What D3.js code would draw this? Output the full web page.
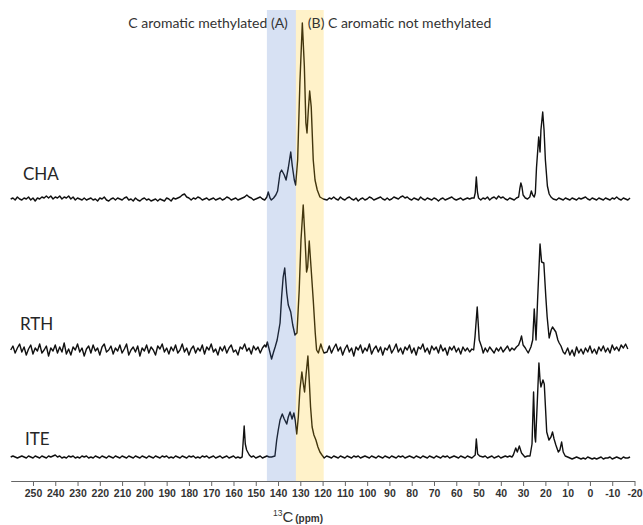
<!DOCTYPE html>
<html><head><meta charset="utf-8">
<script src="https://cdn.jsdelivr.net/npm/d3@7"></script>
<style>
html,body{margin:0;padding:0;background:#fff;}
svg{display:block;}
</style></head>
<body>
<svg id="chart" width="643" height="525"></svg>
<script>
// ---- data ----
const sampleNames = ["CHA", "RTH", "ITE"];
const stackOffsets = [282, 131, 24]; // vertical stacking offsets (intensity units)
const ppmTicks = [250,240,230,220,210,200,190,180,170,160,150,140,130,120,110,100,90,80,70,60,50,40,30,20,10,0,-10,-20];
const bandRanges = [[145, 132], [132, 119.5]];
const bandLabels = ["C aromatic methylated (A)", "(B) C aromatic not methylated"];

// [ppm, intensity]
const specCHA = [
[260,0],[259,1],[258,-1],[257,2],[256,0],[255,-1],[254,1],[253,0],[252,2],[251,-1],[250,1],[249,-2],[248,1],[247,0],[246,2],[245,1],[244,3],[243,1],[242,3],[241,0],[240,2],[239,1],[238,3],[237,0],[236,2],[235,1],[234,3],[233,0],[232,2],[231,-1],[230,1],[229,0],[228,-1],[227,1],[226,-1],[225,0],[224,1],[223,-1],[222,0],[221,-2],[220,1],[219,0],[218,2],[217,-1],[216,-2],[215,0],[214,1],[213,-1],[212,1],[211,0],[210,-1],[209,1],[208,2],[207,-1],[206,0],[205,-2],[204,1],[203,-1],[202,-2],[201,0],[200,1],[199,-1],[198,0],[197,-2],[196,-1],[195,0],[194,-2],[193,0],[192,-1],[191,-2],[190,1],[189,0],[188,-2],[187,1],[186,0],[185,1],[184,2],[183,4],[182,5],[181,2],[180,1],[179,-1],[178,1],[177,0],[176,2],[175,1],[174,-1],[173,0],[172,1],[171,-1],[170,0],[169,1],[168,-1],[167,0],[166,1],[165,-1],[164,0],[163,2],[162,1],[161,-1],[160,0],[159,1],[158,-1],[157,0],[156,1],[155,2],[154,4],[153,2],[152,1],[151,-1],[150,0],[149,1],[148,2],[147,0],[146,-1],
[145,2],[144.4,7],[143.6,1],[143,-1],[142,1],[141,4],[140.2,8],[139.1,26],[138.4,29],[137.2,24],[136.4,19],[135.4,31],[134.3,47],[133.6,33],[132.7,19],[132.1,14],[131.2,39],[130.2,116],[129.1,176],[128.2,133],[127.5,76],[127.0,66],[126.4,89],[125.8,108],[125.1,92],[124.2,39],[123.4,19],[122.4,9],[121.2,2],[119.7,0],
[118,-1],[117,1],[116,0],[115,2],[114,0],[113,-1],[112,2],[111,0],[110,-1],[109,1],[108,2],[107,0],[106,-1],[105,1],[104,-2],[103,0],[102,1],[101,-1],[100,0],[99,2],[98,1],[97,-1],[96,0],[95,1],[94,2],[93,0],[92,-1],[91,1],[90,-1],[89,0],[88,2],[87,1],[86,0],[85,2],[84,3],[83,1],[82,2],[81,0],[80,-1],[79,1],[78,0],[77,-1],[76,2],[75,0],[74,-1],[73,1],[72,0],[71,-1],[70,1],[69,0],[68,-2],[67,0],[66,1],[65,-1],[64,0],[63,1],[62,2],[61,0],[60,-1],[59,0],[58,1],[57,-1],[56,0],[55,1],[54,0],[53,1],
[52,1],[51.5,6],[51,22],[50.5,7],[50,1],[49,-1],[48,1],[47,0],[46,2],[45,-1],[44,1],[43,2],[42,0],[41,3],[40,1],[39,2],[38,0],[37,-1],[36,1],[35,0],[34,-1],[33,1],[32,2],[31.5,10],[31,16],[30.5,12],[30,4],[29,1],[28,0],[27,2],[26.3,8],[25.7,4],[25,2],[24.5,6],[24,31],[23,62],[22.4,47],[22,69],[21.2,87],[20.6,69],[20,39],[19.1,13],[18.3,5],[17.5,2],[16.5,0],
[15,-1],[14,1],[13,0],[12,-1],[11,1],[10,0],[9,-1],[8,1],[7,0],[6,-1],[5,1],[4,0],[3,1],[2,2],[1,0],[0,-1],[-1,1],[-2,0],[-3,-1],[-4,1],[-5,0],[-6,-1],[-7,1],[-8,0],[-9,-1],[-10,1],[-11,0],[-12,2],[-13,0],[-14,-1],[-15,1],[-16,0],[-17,-1],[-18,1]
];

const specRTH = [
[260,0],[259,4],[258,-3],[257,2],[256,6],[255,-2],[254,3],[253,-5],[252,1],[251,5],[250,-4],[249,2],[248,-1],[247,6],[246,-3],[245,0],[244,4],[243,-6],[242,2],[241,-1],[240,5],[239,-3],[238,3],[237,-2],[236,7],[235,-4],[234,1],[233,-5],[232,3],[231,0],[230,6],[229,-2],[228,2],[227,-6],[226,1],[225,4],[224,-3],[223,5],[222,-1],[221,2],[220,-5],[219,3],[218,6],[217,-2],[216,0],[215,4],[214,-4],[213,2],[212,-1],[211,5],[210,-3],[209,1],[208,6],[207,-5],[206,0],[205,3],[204,-2],[203,4],[202,-6],[201,2],[200,-1],[199,5],[198,-3],[197,3],[196,0],[195,-5],[194,4],[193,1],[192,6],[191,-2],[190,2],[189,-4],[188,3],[187,-1],[186,5],[185,-3],[184,0],[183,6],[182,-2],[181,2],[180,-5],[179,1],[178,4],[177,-3],[176,2],[175,-1],[174,5],[173,-4],[172,3],[171,0],[170,6],[169,-2],[168,1],[167,-5],[166,3],[165,-1],[164,4],[163,-3],[162,2],[161,5],[160,-2],[159,0],[158,-5],[157,3],[156,1],[155,6],[154,-1],[153,2],[152,-4],[151,4],[150,0],[149,3],[148,-3],[147,2],[146,5],
[145.4,3],[144.8,8],[143.9,0],[142.9,-9],[142,-2],[141.3,3],[140.4,10],[139.1,27],[138.4,53],[137.7,73],[137.0,82],[136.1,57],[135.4,45],[134.3,38],[133.4,25],[132.4,15],[131.5,17],[130.5,60],[129.7,110],[128.7,145],[127.8,107],[127.2,78],[126.7,83],[126.0,109],[125.2,83],[124.2,50],[123.3,17],[122.7,0],[121.9,-3],[120.8,6],[120.1,1],[119.4,-3],
[118,-2],[117,4],[116,-3],[115,2],[114,6],[113,-1],[112,3],[111,-5],[110,1],[109,5],[108,-2],[107,2],[106,-6],[105,3],[104,0],[103,5],[102,-3],[101,2],[100,-1],[99,6],[98,-4],[97,1],[96,4],[95,-2],[94,3],[93,-5],[92,2],[91,0],[90,5],[89,-3],[88,1],[87,6],[86,-2],[85,2],[84,-4],[83,3],[82,0],[81,5],[80,-3],[79,2],[78,-5],[77,3],[76,1],[75,6],[74,-2],[73,2],[72,-4],[71,4],[70,0],[69,3],[68,-3],[67,5],[66,-1],[65,2],[64,-5],[63,3],[62,0],[61,4],[60,-2],[59,2],[58,-4],[57,3],[56,-1],[55,2],[54,-2],[53,1],[52.2,0],
[51.6,13],[50.6,43],[49.7,10],[48.6,3],[47.9,-3],[47,2],[46,-2],[45,3],[44,0],[43,-3],[42,2],[41,-1],[40,3],[39,-2],[38,1],[37,4],[36,-1],[35,2],[34,0],[33,3],[32,5],[31.2,10],[30.7,14],[30,5],[29,2],[28.5,0],[27.7,-3],[26.5,3],[25.7,10],[25,41],[24.2,10],[23.5,50],[22.4,106],[21.7,88],[20.7,87],[19.8,53],[19.2,33],[18.3,12],[17.4,20],[16.8,23],[15.9,20],[15.3,18],[14.4,10],[13.8,7],[13,4],[12,-2],[11.2,-4],
[10,2],[9,-5],[8,0],[7,-6],[6,3],[5,-3],[4,1],[3,-4],[2,2],[1,-2],[0,4],[-1,-3],[-2,1],[-3,-4],[-4,3],[-5,-1],[-6,4],[-7,-2],[-8,2],[-9,-3],[-10,5],[-11,0],[-12,3],[-13,-1],[-14,5],[-15,2],[-16,6],[-17,1]
];

const specITE = [
[260,0],[259,1],[258,0],[257,-1],[256,0],[255,1],[254,0],[253,-1],[252,1],[251,0],[250,-1],[249,1],[248,0],[247,-1],[246,1],[245,0],[244,-1],[243,1],[242,0],[241,1],[240,2],[239,0],[238,1],[237,-1],[236,0],[235,-1],[234,1],[233,0],[232,1],[231,-1],[230,0],[229,-1],[228,1],[227,0],[226,1],[225,-1],[224,0],[223,-1],[222,1],[221,0],[220,-1],[219,1],[218,0],[217,-1],[216,1],[215,0],[214,-1],[213,1],[212,0],[211,-1],[210,1],[209,0],[208,-1],[207,1],[206,0],[205,-1],[204,1],[203,0],[202,-1],[201,1],[200,0],[199,-1],[198,1],[197,0],[196,-1],[195,1],[194,0],[193,-1],[192,1],[191,0],[190,1],[189,-1],[188,0],[187,-1],[186,1],[185,0],[184,-1],[183,1],[182,0],[181,-1],[180,1],[179,0],[178,1],[177,-1],[176,0],[175,-1],[174,1],[173,0],[172,1],[171,-1],[170,0],[169,1],[168,-1],[167,0],[166,1],[165,-1],[164,0],[163,1],[162,-1],[161,0],[160,1],[159,-1],[158,0],[157,-1],
[156.1,0],[155.6,17],[155.2,31],[154.7,13],[154.1,7],[152.9,2],[152,0],[151,1],[150,-1],[149,0],[148,1],[147,-1],[146,0],[145,1],[144,0],[142.9,0],[141.4,1],
[140.6,17],[139.9,27],[139.1,37],[138.1,43],[137.2,38],[136.1,33],[135.4,40],[134.6,45],[133.7,38],[132.9,44],[132.3,37],[131.6,23],[130.9,40],[130.2,67],[129.3,85],[128.7,74],[128.1,65],[127.4,83],[126.6,101],[126.0,77],[125.4,50],[124.7,30],[123.9,22],[123.0,17],[122.1,10],[121.2,5],[120.3,2],[119.3,-1],[118.2,1],
[117,0],[116,-1],[115,1],[114,0],[113,-1],[112,1],[111,0],[110,-1],[109,1],[108,0],[107,-1],[106,1],[105,0],[104,1],[103,-1],[102,0],[101,1],[100,0],[99,-1],[98,1],[97,0],[96,-1],[95,1],[94,0],[93,-1],[92,1],[91,0],[90,-1],[89,1],[88,0],[87,-1],[86,1],[85,0],[84,1],[83,-1],[82,0],[81,1],[80,0],[79,-1],[78,1],[77,0],[76,-1],[75,1],[74,0],[73,-1],[72,1],[71,0],[70,-1],[69,1],[68,0],[67,-1],[66,1],[65,0],[64,1],[63,-1],[62,0],[61,1],[60,0],[59,-1],[58,1],[57,0],[56,-1],[55,1],[54,0],[53,-1],[52,1],
[51.5,2],[51,18],[50.4,3],[49.5,1],[48,0],[47,1],[46,-1],[45,0],[44,1],[43,-1],[42,0],[41,1],[40,-1],[39,0],[38,1],[37,0],[36,1],[35,0],[34.4,2],[33.3,9],[32.6,5],[31.7,11],[30.7,4],[29.2,0],[28,1],[26.9,1],[26,13],[25.3,65],[24.7,20],[24.4,15],[23.6,57],[22.9,94],[22.4,77],[22,70],[21.1,77],[20.5,73],[19.9,47],[19.4,25],[18.4,17],[17.5,20],[16.8,25],[16.1,18],[15.3,12],[14.2,5],[13.5,7],[12.7,15],[12,5],[11.1,1],
[10,0],[9,-1],[8,-2],[7,-1],[6,0],[5,-1],[4,-2],[3,-1],[2,-2],[1,0],[0,-1],[-1,-2],[-2,-1],[-3,-2],[-4,-1],[-5,0],[-6,-2],[-7,-1],[-8,-1],[-9,0],[-10,-2],[-11,-1],[-12,0],[-13,-1],[-14,-2],[-15,0],[-16,-1],[-17,-1],[-18,0]
];
const spectra = [specCHA, specRTH, specITE];

// ---- chart ----
const svg = d3.select("#chart");
const x = d3.scaleLinear().domain([260, -20]).range([10.7, 634.5]);
const y = d3.scaleLinear().domain([0, 471]).range([481, 10]);

const gLines = svg.append("g");
spectra.forEach((spec, i) => {
  const line = d3.line()
    .x(d => x(d[0]))
    .y(d => y(stackOffsets[i] + d[1]));
  gLines.append("path")
    .datum(spec)
    .attr("d", line)
    .attr("fill", "none")
    .attr("stroke", "#111")
    .attr("stroke-width", 1.4)
    .attr("stroke-linejoin", "round");
});

// labels for samples
const labelPos = [[23, 180], [20, 330], [25, 445]];
sampleNames.forEach((n, i) => {
  svg.append("text")
    .attr("x", labelPos[i][0]).attr("y", labelPos[i][1])
    .attr("font-family", "Lato, 'Open Sans', sans-serif")
    .attr("font-size", 17)
    .attr("fill", "#262626")
    .text(n);
});

// band overlays
const bandColors = ["#4472C4", "#FFC000"];
const bandOpac = [0.21, 0.21];
svg.append("g").selectAll("rect")
  .data(bandRanges)
  .join("rect")
  .attr("x", d => x(d[0]))
  .attr("width", d => x(d[1]) - x(d[0]))
  .attr("y", y(471))
  .attr("height", y(0) - y(471))
  .attr("fill", (d, i) => bandColors[i])
  .attr("fill-opacity", (d, i) => bandOpac[i]);

// band labels
svg.append("text")
  .attr("x", x(bandRanges[0][1]) - 8).attr("y", 28)
  .attr("text-anchor", "end")
  .attr("font-family", "Lato, 'Open Sans', sans-serif")
  .attr("font-size", 14).attr("fill", "#333")
  .text(bandLabels[0]);
svg.append("text")
  .attr("x", x(bandRanges[0][1]) + 12).attr("y", 28)
  .attr("text-anchor", "start")
  .attr("font-family", "Lato, 'Open Sans', sans-serif")
  .attr("font-size", 14).attr("fill", "#333")
  .text(bandLabels[1]);

// axis
const axis = d3.axisBottom(x)
  .tickValues(ppmTicks)
  .tickSize(5)
  .tickSizeOuter(0)
  .tickPadding(4)
  .tickFormat(d => String(d));
const gAx = svg.append("g").attr("transform", `translate(0,${y(0)})`).call(axis);
gAx.select(".domain").attr("stroke", "#666").attr("stroke-width", 1.2);
gAx.selectAll(".tick line").attr("stroke", "#666").attr("stroke-width", 1);
gAx.selectAll(".tick text")
  .attr("font-family", "'Liberation Sans', Arial, sans-serif")
  .attr("font-size", 10.5)
  .attr("font-weight", "bold")
  .attr("fill", "#333");

// axis title
const t = svg.append("text")
  .attr("x", 298).attr("y", 522)
  .attr("text-anchor", "middle")
  .attr("font-family", "'Liberation Sans', Arial, sans-serif")
  .attr("fill", "#333");
t.append("tspan").attr("font-size", 8.5).attr("dy", -6).text("13");
t.append("tspan").attr("font-size", 15).attr("dy", 6).text("C");
t.append("tspan").attr("font-size", 10).attr("font-weight", "bold").attr("dx", 2).text("(ppm)");
</script>
</body></html>
